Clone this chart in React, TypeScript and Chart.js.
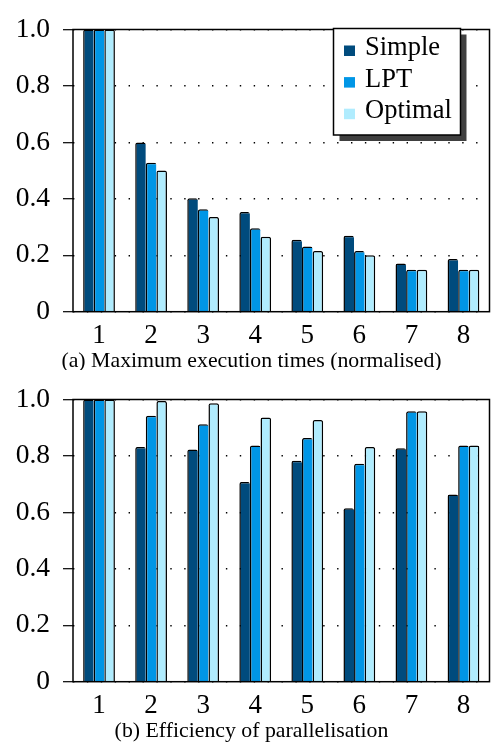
import React, { useEffect, useRef } from 'react';
import { Chart, registerables } from 'chart.js';

Chart.register(...registerables);

const FONT = "'Liberation Serif', 'Times New Roman', serif";

const CATEGORIES = ['1', '2', '3', '4', '5', '6', '7', '8'];
const SERIES_NAMES = ['Simple', 'LPT', 'Optimal'];
const SERIES_COLORS = ['#004b7d', '#0096e6', '#b0ecfe'];

const EXEC_SIMPLE = [1.0, 0.6, 0.402, 0.353, 0.255, 0.269, 0.171, 0.187];
const EXEC_LPT = [1.0, 0.528, 0.363, 0.296, 0.231, 0.215, 0.149, 0.149];
const EXEC_OPTIMAL = [1.0, 0.5, 0.336, 0.266, 0.215, 0.2, 0.149, 0.149];

const EFF_SIMPLE = [1.0, 0.832, 0.823, 0.708, 0.783, 0.615, 0.827, 0.663];
const EFF_LPT = [1.0, 0.942, 0.912, 0.837, 0.864, 0.772, 0.958, 0.837];
const EFF_OPTIMAL = [1.0, 0.995, 0.987, 0.936, 0.927, 0.832, 0.958, 0.837];

const Y_TICKS = [0, 0.2, 0.4, 0.6, 0.8, 1.0];
const Y_TICK_LABELS = ['0', '0.2', '0.4', '0.6', '0.8', '1.0'];

const CAPTION_A = '(a) Maximum execution times (normalised)';
const CAPTION_B = '(b) Efficiency of parallelisation';

const PLOT_BOTTOM = 311.7;

type PanelProps = {
  simple: number[];
  lpt: number[];
  optimal: number[];
  caption: string;
  showLegend: boolean;
  height: number;
};

function BarPanel({ simple, lpt, optimal, caption, showLegend, height }: PanelProps) {
  const ref = useRef<HTMLCanvasElement>(null);

  useEffect(() => {
    const canvas = ref.current;
    if (!canvas) return;

    const framePlugin = {
      id: 'frame',
      afterDatasetsDraw(chart: any) {
        const { ctx, chartArea } = chart;
        ctx.save();
        ctx.strokeStyle = '#000';
        ctx.lineWidth = 1.5;
        ctx.setLineDash([]);
        ctx.strokeRect(chartArea.left, chartArea.top, chartArea.right - chartArea.left, chartArea.bottom - chartArea.top);
        ctx.restore();
      },
    };

    const captionPlugin = {
      id: 'caption',
      afterDraw(chart: any) {
        const { ctx } = chart;
        ctx.save();
        ctx.fillStyle = '#000';
        ctx.font = `21.8px ${FONT}`;
        ctx.textAlign = 'center';
        ctx.textBaseline = 'alphabetic';
        ctx.fillText(caption, 251.5, 366.5);
        ctx.restore();
      },
    };

    const legendPlugin = {
      id: 'boxLegend',
      afterDraw(chart: any) {
        if (!showLegend) return;
        const { ctx } = chart;
        const x0 = 333.5;
        const y0 = 28.5;
        const w = 127;
        const h = 106.5;
        ctx.save();
        ctx.fillStyle = '#404040';
        ctx.fillRect(x0 + 6, y0 + 6, w, h);
        ctx.fillStyle = '#fff';
        ctx.fillRect(x0, y0, w, h);
        ctx.strokeStyle = '#000';
        ctx.lineWidth = 1.5;
        ctx.strokeRect(x0, y0, w, h);
        ctx.font = `26.5px ${FONT}`;
        ctx.textAlign = 'left';
        ctx.textBaseline = 'alphabetic';
        chart.data.datasets.forEach((ds: any, i: number) => {
          const base = 55 + i * 31.6;
          ctx.fillStyle = ds.backgroundColor;
          ctx.fillRect(344, base - 9.5, 11, 10.5);
          ctx.fillStyle = '#000';
          ctx.fillText(ds.label, 365, base);
        });
        ctx.restore();
      },
    };

    const values = [simple, lpt, optimal];
    const chart = new Chart(canvas, {
      type: 'bar',
      data: {
        labels: CATEGORIES,
        datasets: SERIES_NAMES.map((name, i) => ({
          label: name,
          data: values[i],
          backgroundColor: SERIES_COLORS[i],
          borderColor: '#000',
          borderWidth: { top: 1.5, left: 1.5, right: i === 2 ? 1.5 : 0, bottom: 0 },
          borderSkipped: 'bottom',
          borderRadius: { topLeft: 2, topRight: 2, bottomLeft: 0, bottomRight: 0 },
          categoryPercentage: 0.61,
          barPercentage: 1.0,
        })),
      },
      options: {
        responsive: false,
        animation: false,
        events: [],
        layout: { padding: { top: 13.3, right: 2.5, left: 0, bottom: 0 } },
        plugins: {
          legend: { display: false },
          tooltip: { enabled: false },
          title: { display: false },
        },
        scales: {
          x: {
            grid: { display: false, drawTicks: false },
            border: { display: false },
            ticks: {
              padding: 8,
              color: '#000',
              font: { family: FONT, size: 27 },
              maxRotation: 0,
              autoSkip: false,
            },
            afterFit: (s: any) => {
              s.height = height - PLOT_BOTTOM;
            },
          },
          y: {
            min: 0,
            max: 1,
            afterBuildTicks: (s: any) => {
              s.ticks = Y_TICKS.map((v) => ({ value: v }));
            },
            ticks: {
              padding: 13,
              color: '#000',
              font: { family: FONT, size: 27.5 },
              callback: (_v: any, idx: number) => Y_TICK_LABELS[idx],
            },
            grid: {
              color: '#000',
              lineWidth: 1.4,
              tickLength: 10,
              tickWidth: 1.2,
              tickColor: '#000',
              tickBorderDash: [],
            },
            border: { display: false, dash: [1.4, 12.5], dashOffset: 0 },
            afterFit: (s: any) => {
              s.width = 73;
            },
          },
        },
      } as any,
      plugins: [framePlugin, captionPlugin, legendPlugin],
    });

    return () => chart.destroy();
  }, []);

  return <canvas ref={ref} width={492} height={height} style={{ display: 'block' }} />;
}

export default function App() {
  return (
    <div style={{ position: 'absolute', left: 0, top: 0, width: 492, height: 748, background: '#fff' }}>
      <BarPanel simple={EXEC_SIMPLE} lpt={EXEC_LPT} optimal={EXEC_OPTIMAL} caption={CAPTION_A} showLegend={true} height={370} />
      <BarPanel simple={EFF_SIMPLE} lpt={EFF_LPT} optimal={EFF_OPTIMAL} caption={CAPTION_B} showLegend={false} height={378} />
    </div>
  );
}
